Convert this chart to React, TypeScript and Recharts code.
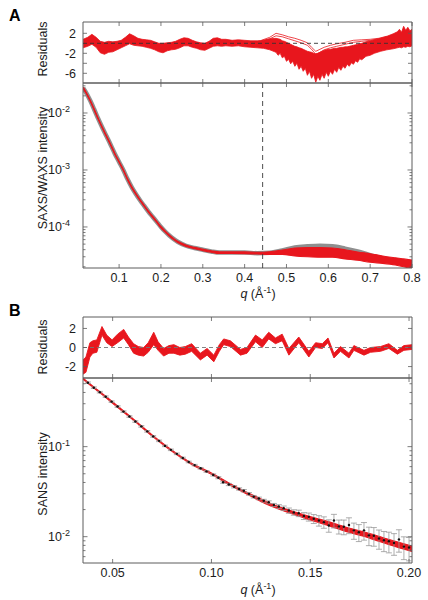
import React from "react";
import {
  ComposedChart,
  Line,
  Area,
  Scatter,
  ErrorBar,
  XAxis,
  YAxis,
  ReferenceLine,
  ReferenceArea,
} from "recharts";

// ---------- panel A : SAXS/WAXS ----------
const qA = [0.014, 0.02, 0.03, 0.04, 0.05, 0.06, 0.07, 0.08, 0.09, 0.1, 0.11, 0.12, 0.13, 0.14, 0.15, 0.16, 0.17, 0.18, 0.19, 0.2, 0.21, 0.22, 0.23, 0.24, 0.26, 0.28, 0.3, 0.32, 0.34, 0.37, 0.4, 0.43, 0.46, 0.49, 0.52, 0.55, 0.58, 0.61, 0.64, 0.67, 0.7, 0.73, 0.76, 0.78, 0.8];
const saxsData = [0.0275, 0.0234, 0.017, 0.01175, 0.00794, 0.0055, 0.00389, 0.00275, 0.00191, 0.00138, 0.001, 0.000692, 0.000501, 0.00038, 0.000295, 0.000234, 0.000186, 0.000151, 0.000123, 0.0001, 8.32e-5, 7.08e-5, 6.17e-5, 5.5e-5, 4.68e-5, 4.27e-5, 3.98e-5, 3.72e-5, 3.55e-5, 3.55e-5, 3.55e-5, 3.47e-5, 3.52e-5, 3.89e-5, 4.37e-5, 4.57e-5, 4.68e-5, 4.57e-5, 4.17e-5, 3.72e-5, 3.2e-5, 2.8e-5, 2.48e-5, 2.3e-5, 2.15e-5];
const saxsFitHi = [0.0285, 0.0241, 0.0174, 0.012, 0.00812, 0.00562, 0.00398, 0.00281, 0.00195, 0.00141, 0.00102, 0.000708, 0.000513, 0.000389, 0.000302, 0.00024, 0.00019, 0.000155, 0.000126, 0.000102, 8.5e-5, 7.25e-5, 6.3e-5, 5.6e-5, 4.8e-5, 4.38e-5, 4.08e-5, 3.82e-5, 3.65e-5, 3.65e-5, 3.65e-5, 3.6e-5, 3.68e-5, 3.95e-5, 4.27e-5, 4.37e-5, 4.37e-5, 4.27e-5, 3.98e-5, 3.63e-5, 3.39e-5, 3.1e-5, 2.88e-5, 2.75e-5, 2.63e-5];
const saxsFitLo = [0.0268, 0.0228, 0.0165, 0.0114, 0.00775, 0.00537, 0.0038, 0.00269, 0.00186, 0.00135, 0.000978, 0.000676, 0.00049, 0.000371, 0.000288, 0.000229, 0.000182, 0.000147, 0.00012, 9.6e-5, 8.1e-5, 6.9e-5, 6.0e-5, 5.35e-5, 4.55e-5, 4.15e-5, 3.85e-5, 3.6e-5, 3.42e-5, 3.42e-5, 3.4e-5, 3.35e-5, 3.3e-5, 3.3e-5, 3.1e-5, 3.0e-5, 2.95e-5, 2.95e-5, 2.75e-5, 2.6e-5, 2.4e-5, 2.3e-5, 2.15e-5, 2.0e-5, 1.86e-5];

const resAq = [0.014, 0.025, 0.035, 0.045, 0.055, 0.065, 0.075, 0.085, 0.095, 0.105, 0.115, 0.125, 0.135, 0.145, 0.155, 0.165, 0.175, 0.185, 0.195, 0.205, 0.215, 0.225, 0.235, 0.245, 0.255, 0.265, 0.275, 0.285, 0.295, 0.305, 0.315, 0.325, 0.335, 0.345, 0.355, 0.37, 0.385, 0.4, 0.415, 0.43, 0.445, 0.46,
  0.475, 0.48, 0.485, 0.49, 0.495, 0.5, 0.505, 0.51, 0.515, 0.52, 0.525, 0.53, 0.535, 0.54, 0.545, 0.55, 0.555, 0.56, 0.565, 0.57, 0.575, 0.58, 0.585, 0.59, 0.595, 0.6, 0.605, 0.61, 0.615, 0.62, 0.625, 0.63, 0.635, 0.64, 0.645, 0.65, 0.655, 0.66, 0.665, 0.67, 0.675, 0.68, 0.69, 0.7, 0.71, 0.725, 0.74, 0.755, 0.765, 0.77, 0.775, 0.78, 0.785, 0.79, 0.795, 0.8];
const resAlo = [-0.9, -0.6, -0.2, -0.8, -1.9, -2.2, -1.8, -1.7, -1.3, -0.9, -0.5, -0.1, -0.4, -0.5, -0.6, -0.8, -1.0, -1.3, -1.7, -1.9, -1.5, -1.3, -1.2, -0.9, -0.5, -0.5, -0.8, -1.0, -1.3, -1.4, -1.0, -0.6, -0.5, -0.6, -0.5, -0.6, -0.5, -0.7, -0.8, -0.9, -1.0, -1.3,
  -1.8, -2.4, -2.0, -2.9, -2.6, -3.6, -3.2, -4.1, -3.6, -4.6, -4.0, -5.2, -4.6, -5.6, -5.0, -6.4, -5.6, -7.0, -6.2, -7.8, -6.6, -7.4, -6.2, -7.0, -5.8, -6.6, -5.6, -6.2, -5.2, -5.8, -4.8, -5.4, -4.6, -5.0, -4.2, -4.6, -3.9, -4.2, -3.5, -3.8, -3.1, -3.3, -2.6, -2.4, -2.0, -1.6, -1.3, -1.1, -0.9, -0.8, -0.9, -0.7, -0.8, -0.6, -0.7, -0.5];
const resAhi = [0.8, 1.2, 1.8, 1.2, 0.4, 0.2, 0.4, 0.3, 0.4, 0.6, 1.2, 1.9, 1.5, 1.0, 0.8, 0.7, 0.6, 0.3, 0.0, 0.0, 0.1, 0.2, 0.4, 0.8, 1.1, 1.0, 0.6, 0.3, 0.1, 0.0, 0.4, 1.0, 1.1, 0.8, 0.8, 0.6, 0.7, 0.6, 0.5, 0.5, 0.6, 0.9,
  1.0, 0.9, 0.8, 0.5, 0.4, 0.2, 0.0, -0.2, -0.4, -0.6, -0.7, -0.9, -1.0, -1.2, -1.4, -1.6, -1.7, -1.8, -2.0, -2.1, -2.0, -1.8, -1.6, -1.4, -1.3, -1.2, -1.2, -1.1, -1.0, -1.0, -0.9, -0.8, -0.8, -0.7, -0.7, -0.6, -0.5, -0.4, -0.3, -0.2, -0.1, 0.0, 0.3, 0.5, 0.7, 1.0, 1.4, 1.9, 2.3, 2.8, 2.2, 3.4, 2.6, 3.2, 2.5, 2.8];

// a few fits that stray above the main band in the WAXS region
const resAoutQ = [0.44, 0.46, 0.475, 0.49, 0.505, 0.52, 0.535, 0.55, 0.56, 0.57, 0.58, 0.59, 0.605, 0.62, 0.64, 0.66, 0.68, 0.7, 0.72, 0.74];
const resAout1 = [0.6, 1.2, 2.0, 1.7, 1.3, 1.0, 0.6, 0.1, -0.8, -1.6, -1.2, -0.8, -0.4, -0.1, 0.2, 0.6, 0.7, 0.8, 1.0, 1.4];
const resAout2 = [0.5, 0.9, 1.5, 1.3, 0.9, 0.5, 0.1, -0.4, -1.2, -2.2, -1.8, -1.3, -0.9, -0.6, -0.2, 0.2, 0.4, 0.6, 0.9, 1.2];

const xTicksA = [0.1, 0.2, 0.3, 0.4, 0.5, 0.6, 0.7, 0.8];
const resTicksA = [2, -2, -4, -6];
const resLabelsA = [2, -2, -6];
const logTicksA = [2e-5, 3e-5, 4e-5, 5e-5, 6e-5, 7e-5, 8e-5, 9e-5, 1e-4, 2e-4, 3e-4, 4e-4, 5e-4, 6e-4, 7e-4, 8e-4, 9e-4, 1e-3, 2e-3, 3e-3, 4e-3, 5e-3, 6e-3, 7e-3, 8e-3, 9e-3, 1e-2, 2e-2, 3e-2];
const guideQ = 0.443;

// ---------- panel B : SANS ----------
const qBfit = [0.035, 0.04, 0.045, 0.05, 0.06, 0.07, 0.08, 0.09, 0.1, 0.11, 0.12, 0.13, 0.14, 0.15, 0.16, 0.17, 0.18, 0.19, 0.2016];
const sansFitHi = [0.578, 0.469, 0.386, 0.314, 0.207, 0.135, 0.0916, 0.0656, 0.051, 0.0383, 0.0296, 0.0234, 0.0195, 0.0167, 0.0145, 0.01242, 0.01086, 0.00928, 0.00785];
const sansFitLo = [0.56, 0.455, 0.374, 0.303, 0.201, 0.131, 0.0887, 0.0635, 0.0492, 0.0367, 0.0281, 0.0219, 0.0182, 0.0153, 0.0131, 0.01112, 0.00964, 0.00816, 0.00684];

const qB = [0.0375, 0.0405, 0.0435, 0.0465, 0.0495, 0.0525, 0.0555, 0.0585, 0.0615, 0.0645, 0.0675, 0.0705, 0.0735, 0.0765, 0.0795, 0.0825, 0.0855, 0.0885, 0.0915, 0.0945, 0.0975, 0.1009, 0.1035, 0.1059, 0.1088, 0.1115, 0.114, 0.1164, 0.119, 0.1214, 0.124, 0.1265, 0.129, 0.1316, 0.1341, 0.1366, 0.1392, 0.1417, 0.1442, 0.1468, 0.1493, 0.1518, 0.1544, 0.1569, 0.1594, 0.162, 0.1645, 0.167, 0.1696, 0.1721, 0.1746, 0.1772, 0.1797, 0.1822, 0.1848, 0.1873, 0.1898, 0.1924, 0.1949, 0.1974, 0.2];
const sansData = [0.513, 0.452, 0.403, 0.359, 0.316, 0.279, 0.245, 0.216, 0.19, 0.168, 0.148, 0.13, 0.116, 0.102, 0.0922, 0.0832, 0.0749, 0.0676, 0.0624, 0.0575, 0.0531, 0.0485, 0.0452, 0.0403, 0.038, 0.0359, 0.0339, 0.0324, 0.0299, 0.0278, 0.0266, 0.0251, 0.0241, 0.0225, 0.0216, 0.0207, 0.0195, 0.0186, 0.0182, 0.017, 0.0166, 0.0158, 0.0151, 0.0145, 0.0133, 0.0151, 0.013, 0.0129, 0.0135, 0.01175, 0.01122, 0.01175, 0.01035, 0.01023, 0.00955, 0.00912, 0.00891, 0.00851, 0.00933, 0.00776, 0.00759];
const sansErr = [0.01, 0.009, 0.008, 0.007, 0.006, 0.0056, 0.0049, 0.0043, 0.0038, 0.0034, 0.003, 0.0026, 0.0023, 0.002, 0.0018, 0.0017, 0.0015, 0.0014, 0.0012, 0.0012, 0.0011, 0.0013, 0.0012, 0.0011, 0.0011, 0.0011, 0.001, 0.001, 0.001, 0.0009, 0.0009, 0.0009, 0.0009, 0.0009, 0.0011, 0.0012, 0.0013, 0.0013, 0.0015, 0.0015, 0.0017, 0.0018, 0.002, 0.0021, 0.0021, 0.0026, 0.0023, 0.0024, 0.0027, 0.0024, 0.0024, 0.0026, 0.0024, 0.0024, 0.0023, 0.0023, 0.0023, 0.0023, 0.0026, 0.0022, 0.0022];

const resBq = [0.035, 0.0365, 0.0385, 0.04, 0.042, 0.0446, 0.047, 0.0497, 0.0525, 0.0556, 0.058, 0.0606, 0.063, 0.0657, 0.068, 0.0708, 0.073, 0.0758, 0.0785, 0.081, 0.084, 0.0868, 0.09, 0.0944, 0.0978, 0.1012, 0.104, 0.1062, 0.1096, 0.1147, 0.118, 0.1223, 0.1257, 0.129, 0.1324, 0.1358, 0.1392, 0.1442, 0.1493, 0.1527, 0.1561, 0.159, 0.162, 0.1653, 0.1696, 0.1721, 0.1772, 0.1805, 0.1856, 0.1898, 0.1941, 0.1974, 0.2016];
const resBlo = [-2.8, -2.6, -1.0, -0.6, -0.5, 1.3, 0.5, 0.1, 0.5, 1.0, 0.3, -0.6, -0.8, -0.9, -0.5, 0.3, -0.3, -0.9, -0.6, -0.6, -0.8, -0.7, -0.4, -1.3, -0.8, -1.5, -0.4, 0.3, 0.1, -0.8, -0.6, 0.6, 0.0, 0.9, 0.4, 0.7, -0.8, 0.5, -1.0, 0.0, -0.1, 0.5, -1.1, -0.4, -1.1, -0.3, -0.8, -0.5, -0.4, -0.1, -0.7, -0.3, -0.2];
const resBhi = [-1.3, -1.0, 0.5, 0.7, 0.8, 2.2, 1.3, 0.8, 1.4, 1.9, 1.1, 0.4, 0.1, 0.0, 0.5, 1.6, 0.6, -0.1, 0.2, 0.3, 0.0, 0.1, 0.4, -0.6, -0.1, -0.8, 0.3, 0.9, 0.7, -0.2, 0.0, 1.3, 0.8, 1.6, 1.0, 1.4, -0.1, 1.1, -0.4, 0.5, 0.4, 1.0, -0.6, 0.1, -0.6, 0.2, -0.3, 0.0, 0.1, 0.4, -0.3, 0.2, 0.3];

const xTicksB = [0.05, 0.1, 0.15, 0.2];
const resTicksB = [2, 0, -2];
const logTicksB = [6e-3, 7e-3, 8e-3, 9e-3, 1e-2, 2e-2, 3e-2, 4e-2, 5e-2, 6e-2, 7e-2, 8e-2, 9e-2, 1e-1, 2e-1, 3e-1, 4e-1, 5e-1];

// ---------- layout ----------
const W = 428;
const LEFT = 83;
const RIGHT = 16;
const PLOT_W = W - LEFT - RIGHT;
const RES_H = 61;
const MAIN_H = 185;

const xDomA = [0.0137, 0.8];
const xDomB = [0.035, 0.2015];
const resDomA = [-7.94, 4.26];
const resDomB = [-3.2, 3.2];
const logDomA = [1.905e-5, 0.0336];
const logDomB = [0.0051, 0.579];

const RED = "#e8161d";
const FRAME = "#5c5c5c";
const INK = "#1c1c1c";
const FONT = "'Liberation Sans', Arial, Helvetica, sans-serif";

const saxsRows = qA.map((q, i) => ({ q, d: saxsData[i], hi: saxsFitHi[i], lo: saxsFitLo[i] }));
const resArows = resAq.map((q, i) => ({ q, lo: resAlo[i], hi: resAhi[i] }));
const out1Rows = resAoutQ.map((q, i) => ({ q, v: resAout1[i] }));
const out2Rows = resAoutQ.map((q, i) => ({ q, v: resAout2[i] }));
const sansFitRows = qBfit.map((q, i) => ({ q, hi: sansFitHi[i], lo: sansFitLo[i] }));
const sansRows = qB.map((q, i) => ({ q, y: sansData[i], err: sansErr[i] }));
const resBrows = resBq.map((q, i) => ({ q, lo: resBlo[i], hi: resBhi[i] }));

const isDecade = (v: number) => Math.abs(Math.log10(v) - Math.round(Math.log10(v))) < 1e-6;
const fmtRes = (v: number) => (v < 0 ? `-${-v}` : `${v}`);

// ticks point inwards and are mirrored on the opposite side of the frame
function XTick({ x, y, payload, plotH, labelOf }: any) {
  return (
    <g>
      <line x1={x} x2={x} y1={y} y2={y - 4} stroke={FRAME} strokeWidth={0.8} />
      <line x1={x} x2={x} y1={y - plotH} y2={y - plotH + 4} stroke={FRAME} strokeWidth={0.8} />
      {labelOf && (
        <text x={x} y={y + 14} textAnchor="middle" fontSize={12.5} fontFamily={FONT} fill={INK}>
          {labelOf(payload.value)}
        </text>
      )}
    </g>
  );
}

function ResTick({ x, y, payload, labelled }: any) {
  const v = payload.value;
  return (
    <g>
      <line x1={x} x2={x + 4} y1={y} y2={y} stroke={FRAME} strokeWidth={0.8} />
      <line x1={x + PLOT_W} x2={x + PLOT_W - 4} y1={y} y2={y} stroke={FRAME} strokeWidth={0.8} />
      {labelled.includes(v) && (
        <text x={x - 7} y={y} dy="0.35em" textAnchor="end" fontSize={12.5} fontFamily={FONT} fill={INK}>
          {fmtRes(v)}
        </text>
      )}
    </g>
  );
}

function LogTick({ x, y, payload }: any) {
  const v = payload.value;
  const major = isDecade(v);
  const len = major ? 4.5 : 2.5;
  return (
    <g>
      <line x1={x} x2={x + len} y1={y} y2={y} stroke={FRAME} strokeWidth={0.8} />
      <line x1={x + PLOT_W} x2={x + PLOT_W - len} y1={y} y2={y} stroke={FRAME} strokeWidth={0.8} />
      {major && (
        <text x={x - 13} y={y} dy="0.35em" textAnchor="end" fontSize={12.5} fontFamily={FONT} fill={INK}>
          10
          <tspan dy={-5} fontSize={9}>
            {Math.round(Math.log10(v))}
          </tspan>
        </text>
      )}
    </g>
  );
}

// axes are 1px thick so recharts still renders them; margins compensate
const axisBase = {
  type: "number" as const,
  allowDataOverflow: true,
  tickSize: 0,
  tickMargin: 0,
  axisLine: false,
  tickLine: false,
  interval: 0 as const,
};

function Frame({ x, y }: { x: number[]; y: number[] }) {
  return <ReferenceArea x1={x[0]} x2={x[1]} y1={y[0]} y2={y[1]} fill="none" stroke={FRAME} strokeWidth={1} />;
}

function ResidualsA() {
  return (
    <ComposedChart width={W} height={95} data={resArows} margin={{ top: 22, right: RIGHT, bottom: 11, left: LEFT - 1 }}>
      <XAxis {...axisBase} dataKey="q" domain={xDomA} ticks={xTicksA} height={1} tick={(p: any) => <XTick {...p} plotH={RES_H} />} />
      <YAxis {...axisBase} domain={resDomA} ticks={resTicksA} width={1} tick={(p: any) => <ResTick {...p} labelled={resLabelsA} />} />
      <Area type="linear" dataKey={(r: any) => [r.lo, r.hi]} stroke={RED} strokeWidth={0.8} fill={RED} fillOpacity={1} isAnimationActive={false} />
      <Line data={out1Rows} type="linear" dataKey="v" stroke={RED} strokeWidth={0.8} dot={false} isAnimationActive={false} />
      <Line data={out2Rows} type="linear" dataKey="v" stroke={RED} strokeWidth={0.8} dot={false} isAnimationActive={false} />
      <ReferenceLine y={0} stroke="#333" strokeDasharray="4 3" strokeWidth={0.9} />
      <Frame x={xDomA} y={resDomA} />
    </ComposedChart>
  );
}

function SaxsMain() {
  return (
    <ComposedChart width={W} height={232} data={saxsRows} margin={{ top: 10, right: RIGHT, bottom: 36, left: LEFT - 1 }}>
      <XAxis {...axisBase} dataKey="q" domain={xDomA} ticks={xTicksA} height={1} tick={(p: any) => <XTick {...p} plotH={MAIN_H} labelOf={(v: number) => String(v)} />} />
      <YAxis {...axisBase} scale="log" domain={logDomA} ticks={logTicksA} width={1} tick={(p: any) => <LogTick {...p} />} />
      <Area type="monotone" dataKey="d" stroke="#333" strokeOpacity={0.55} strokeWidth={4.5} fill="none" isAnimationActive={false} />
      <Area type="monotone" dataKey={(r: any) => [r.lo, r.hi]} stroke={RED} strokeWidth={1.1} fill={RED} fillOpacity={1} isAnimationActive={false} />
      <ReferenceLine x={guideQ} stroke="#3a3a3a" strokeDasharray="5 4" strokeWidth={0.9} />
      <Frame x={xDomA} y={logDomA} />
    </ComposedChart>
  );
}

function ResidualsB() {
  return (
    <ComposedChart width={W} height={80} data={resBrows} margin={{ top: 12, right: RIGHT, bottom: 6, left: LEFT - 1 }}>
      <XAxis {...axisBase} dataKey="q" domain={xDomB} ticks={xTicksB} height={1} tick={(p: any) => <XTick {...p} plotH={RES_H} />} />
      <YAxis {...axisBase} domain={resDomB} ticks={resTicksB} width={1} tick={(p: any) => <ResTick {...p} labelled={resTicksB} />} />
      <ReferenceLine y={0} stroke="#777" strokeDasharray="4 3" strokeWidth={0.9} />
      <Area type="linear" dataKey={(r: any) => [r.lo, r.hi]} stroke={RED} strokeWidth={0.9} fill={RED} fillOpacity={1} isAnimationActive={false} />
      <Frame x={xDomB} y={resDomB} />
    </ComposedChart>
  );
}

function SansMain() {
  return (
    <ComposedChart width={W} height={232} data={sansFitRows} margin={{ top: 10, right: RIGHT, bottom: 36, left: LEFT - 1 }}>
      <XAxis {...axisBase} dataKey="q" domain={xDomB} ticks={xTicksB} height={1} tick={(p: any) => <XTick {...p} plotH={MAIN_H} labelOf={(v: number) => v.toFixed(2)} />} />
      <YAxis {...axisBase} scale="log" domain={logDomB} ticks={logTicksB} width={1} tick={(p: any) => <LogTick {...p} />} />
      <Area type="monotone" dataKey={(r: any) => [r.lo, r.hi]} stroke={RED} strokeWidth={1.1} fill={RED} fillOpacity={1} isAnimationActive={false} />
      <Scatter
        data={sansRows}
        dataKey="y"
        isAnimationActive={false}
        shape={(p: any) => <circle cx={p.cx} cy={p.cy} r={1.2} fill="#111" />}
      >
        <ErrorBar dataKey="err" direction="y" width={3} stroke="#999" strokeWidth={0.8} isAnimationActive={false} />
      </Scatter>
      <Frame x={xDomB} y={logDomB} />
    </ComposedChart>
  );
}

function QLabel({ y }: { y: number }) {
  return (
    <text x={258} y={y} textAnchor="middle" fontSize={12.5} fill={INK}>
      <tspan fontStyle="italic">q</tspan> (Å
      <tspan dy={-5} fontSize={9}>-1</tspan>
      <tspan dy={5}>)</tspan>
    </text>
  );
}

export default function App() {
  const at = (top: number): React.CSSProperties => ({ position: "absolute", left: 0, top });
  return (
    <div style={{ position: "absolute", left: 0, top: 0, width: W, height: 600, background: "#fff", fontFamily: FONT }}>
      <div style={at(0)}>
        <ResidualsA />
      </div>
      <div style={at(73)}>
        <SaxsMain />
      </div>
      <div style={at(305)}>
        <ResidualsB />
      </div>
      <div style={at(368)}>
        <SansMain />
      </div>
      <svg width={W} height={600} style={{ position: "absolute", left: 0, top: 0, pointerEvents: "none" }} fontFamily={FONT}>
        <text x={9} y={21} fontSize={16} fontWeight="bold" fill="#000">A</text>
        <text x={9} y={316} fontSize={16} fontWeight="bold" fill="#000">B</text>
        <text transform="translate(47,49) rotate(-90)" textAnchor="middle" fontSize={12.5} fill={INK}>Residuals</text>
        <text transform="translate(47,168) rotate(-90)" textAnchor="middle" fontSize={12.5} fill={INK}>SAXS/WAXS intensity</text>
        <text transform="translate(47,347) rotate(-90)" textAnchor="middle" fontSize={12.5} fill={INK}>Residuals</text>
        <text transform="translate(47,474) rotate(-90)" textAnchor="middle" fontSize={12.5} fill={INK}>SANS intensity</text>
        <QLabel y={298} />
        <QLabel y={594} />
      </svg>
    </div>
  );
}
